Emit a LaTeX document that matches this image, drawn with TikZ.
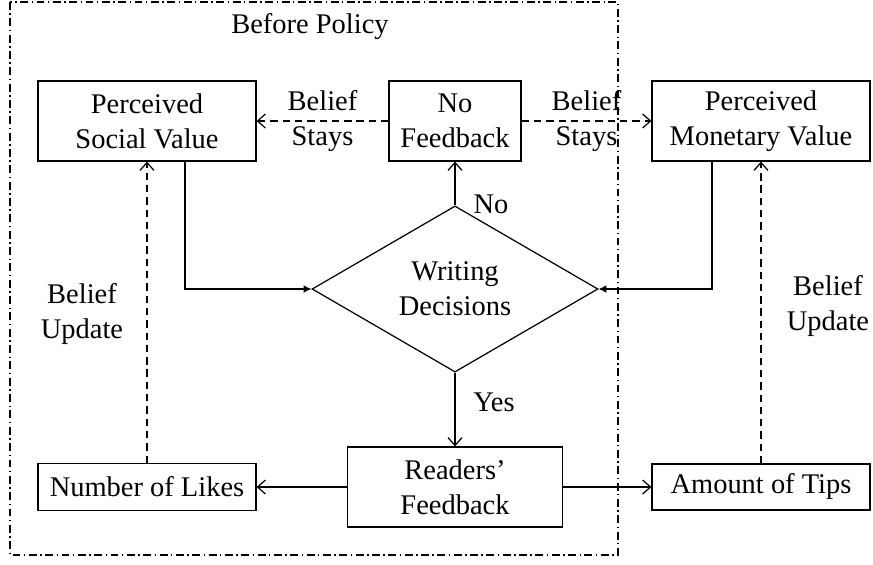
\documentclass[tikz,border=0pt]{standalone}
\usepackage{fontspec}
\setmainfont{Liberation Serif}
\usetikzlibrary{shapes.geometric,arrows.meta,calc}

\begin{document}
\begin{tikzpicture}[x=0.02cm,y=-0.02cm,line cap=butt]
  \tikzset{
    box/.style={draw,line width=0.7pt,align=center,inner sep=0pt},
    decision/.style={draw,diamond,line width=0.7pt,align=center,inner sep=0pt,
      minimum width=5.72cm,minimum height=2.54cm},
    flow/.style={line width=0.7pt,-{Straight Barb[length=4.5pt,width=8pt]}},
    into/.style={line width=0.7pt,-{Latex[length=4.5pt,width=4.5pt]}},
    belief/.style={flow,dash pattern=on 4.2pt off 2.8pt},
    policy/.style={line width=0.6pt,dash pattern=on 4.5pt off 2pt on 0.8pt off 2pt},
    lbl/.style={align=center,inner sep=0pt}
  }
  \useasboundingbox (0,0) rectangle (873,565);
  \fontsize{16.2}{19.8}\selectfont

  % Before-policy region
  \draw[policy] (10,2) rectangle (618,555);
  \node[lbl] (before) at (310,27) {Before Policy};

  % Top row
  \node[box,minimum width=4.36cm,minimum height=1.6cm] (psv) at (147,121) {Perceived\\Social Value};
  \node[box,minimum width=2.64cm,minimum height=1.6cm] (nofb) at (455,121) {No\\Feedback};
  \node[box,minimum width=4.36cm,minimum height=1.6cm] (pmv) at (761,121) {Perceived\\Monetary Value};

  % Decision
  \node[decision] (dec) at (455,289) {Writing\\Decisions};

  % Bottom row
  \node[box,minimum width=4.36cm,minimum height=0.94cm] (likes) at (147,487) {Number of Likes};
  \node[box,minimum width=4.3cm,minimum height=1.6cm] (rf) at (455,487) {Readers'\\Feedback};
  \node[box,minimum width=4.36cm,minimum height=0.92cm] (tips) at (761,487) {Amount of Tips};

  % Beliefs stay without feedback
  \draw[belief] (nofb.west) -- (psv.east) node[midway,lbl] {Belief\\Stays};
  \draw[belief] (nofb.east) -- (pmv.west) node[midway,lbl] {Belief\\Stays};

  % Perceived values feed the decision
  \draw[into] ($(psv.south)+(38,0)$) |- (dec.west);
  \draw[into] ($(pmv.south)+(-49,0)$) |- (dec.east);

  % Outcomes of the decision
  \draw[flow] (dec.north) -- (nofb.south);
  \node[lbl] (no) at (491,204) {No};
  \draw[flow] (dec.south) -- (rf.north);
  \node[lbl] (yes) at (494,402) {Yes};

  % Feedback split
  \draw[flow] (rf.west) -- (likes.east);
  \draw[flow] (rf.east) -- (tips.west);

  % Belief updates
  \draw[belief] (likes.north) -- (psv.south);
  \node[lbl] (updl) at (82,314) {Belief\\Update};
  \draw[belief] (tips.north) -- (pmv.south);
  \node[lbl] (updr) at (828,306) {Belief\\Update};
\end{tikzpicture}
\end{document}
